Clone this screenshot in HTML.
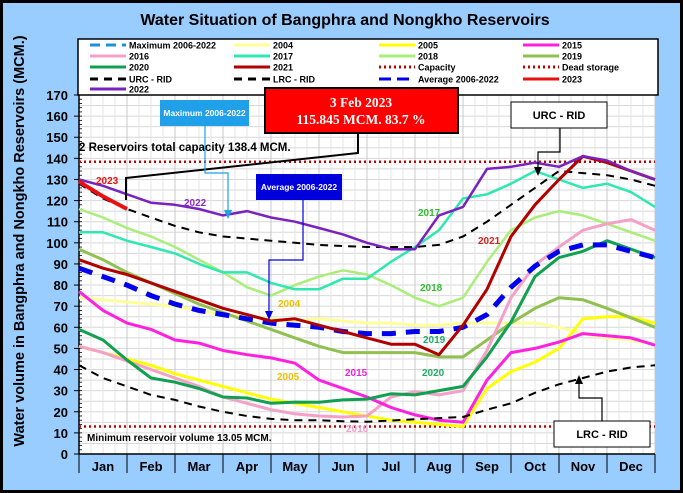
<!DOCTYPE html>
<html><head><meta charset="utf-8"><style>
html,body{margin:0;padding:0;background:#99ccff}
svg{display:block;font-family:"Liberation Sans",sans-serif}
</style></head><body>
<svg id="chart" width="683" height="493" viewBox="0 0 683 493" xmlns="http://www.w3.org/2000/svg">
<rect x="1.5" y="1.5" width="680" height="490" fill="#99ccff" stroke="#000" stroke-width="3"/>
<text x="345" y="25" text-anchor="middle" font-size="16" font-weight="bold">Water Situation of Bangphra and Nongkho Reservoirs</text>
<text transform="translate(24,241) rotate(-90)" text-anchor="middle" font-size="14.5" font-weight="bold">Water volume in Bangphra and Nongkho Reservoirs (MCM.)</text>
<rect x="79" y="95" width="576" height="359" fill="#fff"/>
<g id="grid"></g>
<g id="yticks"></g>
<g id="xticks"></g>
<g id="series"></g>
<rect x="78" y="39" width="580" height="56" fill="#fff" stroke="#000" stroke-width="1.5"/>
<g id="legend" font-size="9" font-weight="bold"></g>
<line x1="79" y1="95" x2="655" y2="95" stroke="#000" stroke-width="1"/>
<text x="79" y="151" font-size="11.5" font-weight="bold">2 Reservoirs total capacity 138.4 MCM.</text>
<text x="87" y="441" font-size="10" font-weight="bold">Minimum reservoir volume 13.05 MCM.</text>
<polyline points="358,133 358,153 126,178 126,200" fill="none" stroke="#000" stroke-width="2"/>
<rect x="265" y="88" width="193" height="45" fill="#ff0000" stroke="#000" stroke-width="2"/>
<text x="361" y="107" text-anchor="middle" fill="#fff" font-size="13.5" font-weight="bold" font-family="Liberation Serif,serif">3 Feb 2023</text>
<text x="361" y="124" text-anchor="middle" fill="#fff" font-size="13.5" font-weight="bold" font-family="Liberation Serif,serif">115.845 MCM. 83.7 %</text>
<polyline points="205,126 205,173 228,173 228,212" fill="none" stroke="#1fa0e8" stroke-width="1.2"/>
<polygon points="224,210 232,210 228,219" fill="#1fa0e8"/>
<rect x="160" y="100" width="89" height="26" fill="#1fa0e8"/>
<text x="204.5" y="116" text-anchor="middle" fill="#fff" font-size="8.5" font-weight="bold">Maximum 2006-2022</text>
<polyline points="303,200 303,260 269,260 269,313" fill="none" stroke="#0000dd" stroke-width="1.2"/>
<polygon points="265,311 273,311 269,320" fill="#0000dd"/>
<rect x="256" y="174" width="86" height="26" fill="#0000dd"/>
<text x="299" y="190" text-anchor="middle" fill="#fff" font-size="8.5" font-weight="bold">Average 2006-2022</text>
<polyline points="560,128 560,152 538,152 538,168" fill="none" stroke="#000" stroke-width="1.2"/>
<polygon points="534,167 542,167 538,176" fill="#000"/>
<rect x="511" y="102" width="96" height="26" fill="#fff" stroke="#000" stroke-width="1"/>
<text x="559" y="119" text-anchor="middle" font-size="11" font-weight="bold">URC - RID</text>
<polyline points="602,421 602,398 579,398 579,383" fill="none" stroke="#000" stroke-width="1.2"/>
<polygon points="575,384 583,384 579,375" fill="#000"/>
<rect x="554" y="421" width="96" height="26" fill="#fff" stroke="#000" stroke-width="1"/>
<text x="602" y="438" text-anchor="middle" font-size="11" font-weight="bold">LRC - RID</text>
<g font-size="10" font-weight="bold">
<text x="96" y="184" fill="#e81010">2023</text>
<text x="184" y="206" fill="#8a2ccc">2022</text>
<text x="418" y="216" fill="#33bb33">2017</text>
<text x="478" y="244" fill="#dd2222">2021</text>
<text x="420" y="291" fill="#33bb33">2018</text>
<text x="278" y="307" fill="#f0c000">2004</text>
<text x="423" y="343" fill="#22aa66">2019</text>
<text x="277" y="380" fill="#f0c000">2005</text>
<text x="345" y="376" fill="#ee22dd">2015</text>
<text x="422" y="376" fill="#22aa66">2020</text>
<text x="346" y="432" fill="#f4a0c8">2016</text>
</g>
</svg>
<script>
const months=["Jan","Feb","Mar","Apr","May","Jun","Jul","Aug","Sep","Oct","Nov","Dec"];
const yTicks=[0,10,20,30,40,50,60,70,80,90,100,110,120,130,140,150,160,170];
const halfMonths=[0,0.5,1,1.5,2,2.5,3,3.5,4,4.5,5,5.5,6,6.5,7,7.5,8,8.5,9,9.5,10,10.5,11,11.5,12];
const capacity=138.4;
const deadStorage=13.05;
const s2022=[130,127,123,119,118,116,113,115,112,110,107,104,100,97,97,113,117,135,136,138,136,141,139,134,130];
const s2023=[129,122,116];
const s2021=[92,88,85,81,77,73,69,66,63,64,61,58,55,52,52,47,61,78,103,118,130,141,138,134,130];
const s2017=[105,105,101,98,95,90,86,86,81,78,78,83,83,91,98,106,121,123,128,134,130,126,128,124,117];
const s2018=[116,112,107,103,98,92,86,79,75,80,84,87,85,80,74,70,74,91,106,112,115,113,109,105,101];
const s2019=[97,92,86,81,76,71,67,63,59,55,51,48,48,48,48,46,46,54,62,69,74,73,69,64.5,60];
const s2020=[59,54,44.5,36,34,31,27,26.5,24,24.6,24.5,25.6,26,28.5,28,30,32,46,62.5,84,93,96,101,97,93];
const s2016=[51,48,44,40,36,32,27,24,21,19,18,17.5,18,27,29.5,28,30,49,74,89.5,98,106,109,111,106];
const s2015=[77,68,62,59,54,52.5,49,47,45.5,43,35,31,27,22,18.5,16,15,35,48,50,53,57,56,55,51.5];
const s2005=[51,48,45,42,38,35,32,29,26,24,22,20,18,16,15,14,13,31,39,43.5,50,64,65,65,62];
const s2004=[74,73,72,71,70,68,66,65,64,63,64,63,62,62,61,61,62,62,62,62,60,57,55,54,52];
const sAvg=[88,84,80,75,71,68,66,64,62,61,60,58,57,57,58,58,60,66,79,89,96,99,99,96,93];
const sURC=[128,121,116,112,108,105,103,102,101,100,99,98.5,98,98,98,99,103,110,118,126,134,133,132,130,127];
const sLRC=[42,36,32,28,25.6,22.5,20,18,16.6,16,16,15.5,15.3,15.8,16.5,17,17.5,21,24,29,33,36,39,41,42];

const NS="http://www.w3.org/2000/svg";
const X0=79,X1=655,Y0=454,Y1=95;
function xs(m){return X0+(X1-X0)*m/12;}
function ys(v){return Y0-(Y0-Y1)*v/170;}
function mk(tag,attrs,parent){const e=document.createElementNS(NS,tag);for(const k in attrs)e.setAttribute(k,attrs[k]);parent.appendChild(e);return e;}
const grid=document.getElementById('grid');
for(let v=0;v<=170;v+=5){const l=mk('line',{x1:X0,x2:X1,y1:ys(v),y2:ys(v),stroke:'#d8d8d8','stroke-width':1},grid);

}
for(let m=0;m<=12;m+=0.25){const l=mk('line',{x1:xs(m),x2:xs(m),y1:Y1,y2:Y0,stroke:m%1===0?'#c8c8c8':'#e4e4e4','stroke-width':1},grid);

}
const yt=document.getElementById('yticks');
mk('line',{x1:X0,x2:X0,y1:Y1,y2:Y0,stroke:'#000','stroke-width':1.5},yt);
for(let v=0;v<=170;v+=2){mk('line',{x1:X0,x2:X0+3,y1:ys(v),y2:ys(v),stroke:'#000','stroke-width':0.8},yt);}
yTicks.forEach(v=>{mk('line',{x1:X0-5,x2:X0,y1:ys(v),y2:ys(v),stroke:'#000','stroke-width':1},yt);
const t=mk('text',{x:68,y:ys(v)+5,'text-anchor':'end','font-size':13,'font-weight':'bold'},yt);t.textContent=v;

});
const xt=document.getElementById('xticks');
mk('line',{x1:X0,x2:X1,y1:Y0,y2:Y0,stroke:'#000','stroke-width':1.5},xt);
for(let m=0;m<=12;m++){mk('line',{x1:xs(m),x2:xs(m),y1:Y0,y2:473,stroke:'#000','stroke-width':1},xt);}
months.forEach((n,i)=>{const t=mk('text',{x:xs(i+0.5),y:471,'text-anchor':'middle','font-size':13,'font-weight':'bold'},xt);t.textContent=n;

});
const sg=document.getElementById('series');
function ref(v,col,name){const l=mk('line',{x1:X0,x2:X1,y1:ys(v),y2:ys(v),stroke:col,'stroke-width':2.5,'stroke-dasharray':'2 3'},sg);

}
ref(capacity,'#c00000','capacity-line');
ref(deadStorage,'#c00000','dead-storage-line');
function line(vals,col,w,dash,name){const pts=vals.map((v,i)=>xs(halfMonths[i]).toFixed(1)+','+ys(v).toFixed(1)).join(' ');
const p=mk('polyline',{points:pts,fill:'none',stroke:col,'stroke-width':w,'stroke-linejoin':'round'},sg);if(dash)p.setAttribute('stroke-dasharray',dash);

}
line(s2004,'#ffff99',3,null,'series-2004');
line(s2005,'#ffff00',3,null,'series-2005');
line(s2018,'#a8ee78',2.5,null,'series-2018');
line(s2019,'#90c050',3,null,'series-2019');
line(s2016,'#f4a0c8',3,null,'series-2016');
line(s2015,'#ff20e0',3,null,'series-2015');
line(s2020,'#10a050',3,null,'series-2020');
line(s2017,'#2ee8b0',2.5,null,'series-2017');
line(sLRC,'#000',2,'8 6','series-lrc-rid');
line(sURC,'#000',2,'8 6','series-urc-rid');
line(sAvg,'#0000ee',5,'14 10','series-average');
line(s2021,'#b00000',3,null,'series-2021');
line(s2022,'#7a22c0',2.5,null,'series-2022');
line(s2023,'#e81010',4,null,'series-2023');
const legendItems=[["Maximum 2006-2022","#1e90e0","10 6",90,45],["2004","#ffff99",null,234,45],["2005","#ffff00",null,379,45],["2015","#ff20e0",null,523,45],
["2016","#f4a0c8",null,90,56],["2017","#2ee8b0",null,234,56],["2018","#a8ee78",null,379,56],["2019","#90c050",null,523,56],
["2020","#10a050",null,90,67],["2021","#b00000",null,234,67],["Capacity","#c00000","2 3",379,67],["Dead storage","#c00000","2 3",523,67],
["URC - RID","#000","8 6",90,79],["LRC - RID","#000","8 6",234,79],["Average 2006-2022","#0000ee","12 6",379,79],["2023","#e81010",null,523,79],
["2022","#7a22c0",null,90,89]];
const lg=document.getElementById('legend');
legendItems.forEach(it=>{const g=mk('g',{},lg);


const l=mk('line',{x1:it[3],x2:it[3]+36,y1:it[4],y2:it[4],stroke:it[1],'stroke-width':3},g);if(it[2])l.setAttribute('stroke-dasharray',it[2]);
const t=mk('text',{x:it[3]+39,y:it[4]+3.5},g);t.textContent=it[0];});
</script>
</body></html>
